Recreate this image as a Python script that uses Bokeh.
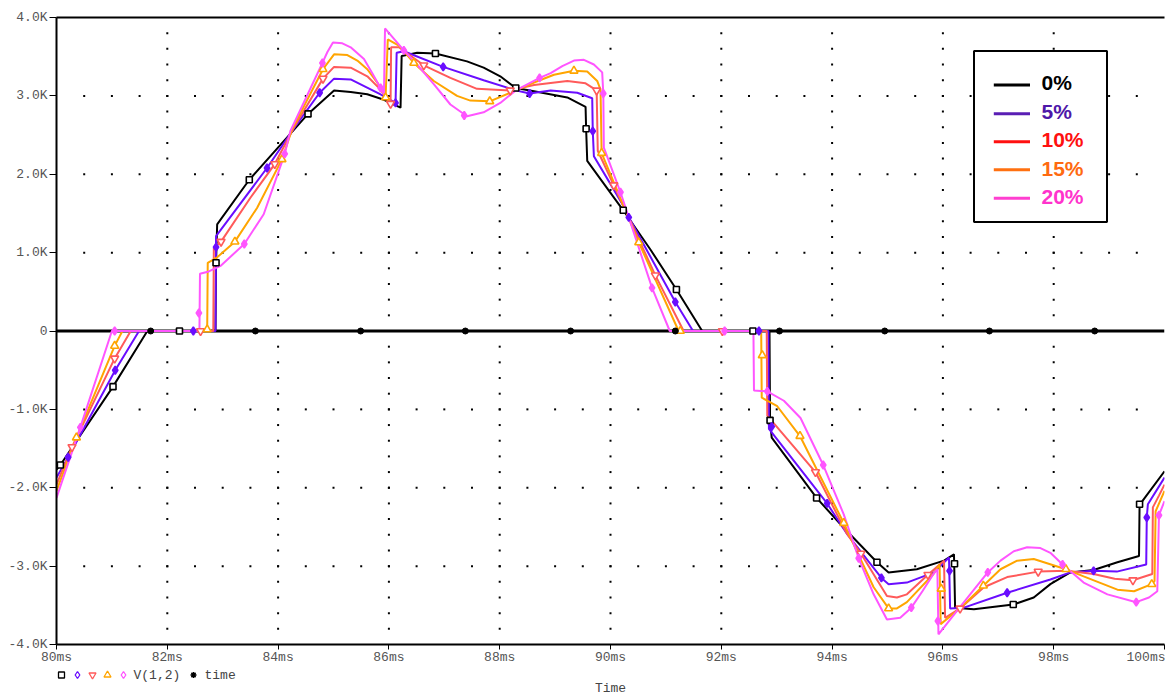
import numpy as np
from bokeh.plotting import figure
from bokeh.layouts import column
from bokeh.models import Range1d, FixedTicker, LinearAxis
from bokeh.core.properties import value
from bokeh.embed import file_html
from bokeh.resources import INLINE

# ---------------- data (time in ms, V(1,2) in kV) ----------------
series_names = ["0%", "5%", "10%", "15%", "20%"]

t0 = [80.0, 80.07, 81.02, 81.64, 82.87, 82.88, 82.90, 83.48, 84.34, 84.54, 85.01, 85.31, 85.61, 85.91,
      86.21, 86.23, 86.51, 86.84, 87.41, 87.71, 88.01, 88.29, 88.62, 89.22, 89.55, 89.56, 89.58, 90.23,
      90.72, 91.19, 91.655, 92.87, 92.88, 92.91, 93.72, 94.21, 94.81, 95.02, 95.53, 96.02, 96.20, 96.22,
      96.56, 97.27, 97.64, 97.94, 98.30, 98.72, 99.15, 99.54, 99.55, 99.60, 100.0]
v0 = [-1.77, -1.71, -0.71, 0.0, 0.0, 0.87, 1.36, 1.93, 2.61, 2.77, 3.07, 3.05, 3.02, 2.95,
      2.85, 3.51, 3.55, 3.54, 3.44, 3.36, 3.25, 3.10, 3.06, 2.98, 2.86, 2.58, 2.17, 1.54,
      1.04, 0.53, 0.0, 0.0, -1.14, -1.36, -2.13, -2.51, -2.95, -3.08, -3.04, -2.93, -2.85, -3.53,
      -3.55, -3.49, -3.40, -3.23, -3.08, -3.05, -2.95, -2.87, -2.21, -2.17, -1.79]

t1 = [80.0, 80.21, 81.06, 81.49, 82.87, 82.88, 83.80, 84.31, 84.75, 85.01, 85.31, 85.85, 86.12, 86.14,
      86.27, 86.98, 87.71, 88.29, 88.54, 88.92, 89.40, 89.67, 89.68, 89.70, 90.24, 90.33, 91.17, 91.49,
      92.85, 92.86, 93.91, 94.27, 94.89, 95.02, 95.35, 95.84, 96.11, 96.13, 96.38, 97.16, 97.94, 98.30,
      98.72, 99.14, 99.67, 99.68, 99.70, 100.0]
v1 = [-1.87, -1.61, -0.50, 0.0, 0.0, 1.21, 2.08, 2.61, 3.04, 3.22, 3.21, 3.02, 2.91, 3.55,
      3.57, 3.37, 3.20, 3.07, 3.03, 3.07, 3.04, 2.97, 2.55, 2.23, 1.59, 1.45, 0.37, 0.0,
      0.0, -1.25, -2.20, -2.59, -3.15, -3.23, -3.21, -3.08, -2.89, -3.54, -3.53, -3.34, -3.17, -3.08,
      -3.06, -3.07, -2.98, -2.38, -2.21, -1.87]

t2 = [80.0, 80.28, 81.05, 81.34, 82.83, 82.84, 82.97, 83.50, 83.94, 84.28, 84.81, 85.01, 85.31, 85.61,
      85.85, 86.03, 86.04, 86.18, 86.63, 87.11, 87.59, 88.19, 88.62, 89.22, 89.55, 89.75, 89.77, 90.06,
      90.81, 91.32, 92.82, 92.83, 93.70, 94.27, 94.52, 94.99, 95.17, 95.35, 95.73, 96.02, 96.04, 96.31,
      96.74, 97.16, 97.72, 98.24, 98.72, 99.10, 99.43, 99.78, 99.79, 99.90, 100.0]
v2 = [-1.96, -1.48, -0.35, 0.0, 0.0, 1.06, 1.14, 1.70, 2.13, 2.59, 3.22, 3.37, 3.36, 3.25,
      3.08, 2.90, 3.62, 3.62, 3.39, 3.23, 3.09, 3.07, 3.14, 3.19, 3.16, 3.07, 2.30, 1.86,
      0.71, 0.0, 0.0, -1.08, -1.80, -2.59, -2.84, -3.38, -3.40, -3.36, -3.11, -2.93, -3.66, -3.54,
      -3.27, -3.14, -3.07, -3.06, -3.10, -3.16, -3.18, -3.10, -2.25, -2.10, -1.96]

t3 = [80.0, 80.36, 81.05, 81.19, 82.72, 82.73, 82.90, 83.22, 83.62, 84.07, 84.25, 84.81, 85.01, 85.25,
      85.43, 85.61, 85.79, 85.94, 85.98, 86.18, 86.45, 86.81, 87.23, 87.47, 87.82, 88.29, 88.62, 88.98,
      89.34, 89.58, 89.76, 89.82, 89.84, 90.51, 91.23, 92.72, 92.73, 93.01, 93.42, 94.21, 94.75, 95.02,
      95.17, 95.35, 95.83, 95.94, 95.96, 96.32, 96.73, 97.04, 97.34, 97.64, 98.22, 98.54, 99.15, 99.45,
      99.77, 99.82, 99.84, 100.0]
v3 = [-2.04, -1.36, -0.19, 0.0, 0.0, 0.87, 0.94, 1.14, 1.57, 2.19, 2.57, 3.34, 3.53, 3.52,
      3.45, 3.34, 3.17, 2.98, 3.72, 3.64, 3.42, 3.19, 3.00, 2.94, 2.93, 3.07, 3.17, 3.27,
      3.32, 3.31, 3.19, 3.08, 2.27, 1.13, 0.0, 0.0, -0.85, -0.96, -1.34, -2.45, -3.27, -3.54,
      -3.54, -3.46, -3.10, -2.98, -3.74, -3.53, -3.25, -3.04, -2.93, -2.91, -3.04, -3.13, -3.30, -3.32,
      -3.23, -3.19, -2.30, -2.04]

t4 = [80.0, 80.43, 81.0, 82.58, 82.59, 82.75, 82.96, 83.39, 83.74, 84.12, 84.22, 84.80, 84.89, 84.99,
      85.16, 85.31, 85.55, 85.70, 85.85, 85.91, 85.93, 86.27, 86.51, 86.81, 87.11, 87.41, 87.71, 88.01,
      88.29, 88.72, 88.92, 89.13, 89.34, 89.52, 89.70, 89.85, 89.87, 89.88, 90.18, 90.75, 91.07,
      92.58, 92.59, 92.83, 93.13, 93.43, 93.84, 94.21, 94.48, 94.75, 94.99, 95.23, 95.43, 95.63, 95.83,
      95.90, 95.92, 96.29, 96.81, 97.04, 97.28, 97.52, 97.76, 97.94, 98.16, 98.54, 98.97, 99.49, 99.72,
      99.87, 99.90, 100.0]
v4 = [-2.13, -1.23, 0.0, 0.0, 0.73, 0.76, 0.83, 1.11, 1.49, 2.26, 2.55, 3.42, 3.56, 3.68,
      3.67, 3.62, 3.47, 3.29, 3.10, 3.02, 3.86, 3.58, 3.40, 3.15, 2.89, 2.74, 2.79, 2.91,
      3.07, 3.23, 3.29, 3.38, 3.45, 3.46, 3.40, 3.30, 3.03, 2.34, 1.77, 0.55, 0.0,
      0.0, -0.76, -0.77, -0.89, -1.11, -1.71, -2.34, -2.90, -3.36, -3.68, -3.66, -3.53, -3.32, -3.10,
      -3.04, -3.87, -3.54, -3.08, -2.93, -2.81, -2.76, -2.77, -2.83, -2.98, -3.21, -3.36, -3.46, -3.40,
      -3.32, -2.35, -2.17]

# marker positions along each trace
m0_t = [80.07, 81.02, 82.22, 82.88, 83.48, 84.54, 86.84, 88.29, 89.56, 90.23, 91.19, 92.57, 92.88,
        93.72, 94.81, 96.21, 97.27, 99.55]
m0_v = [-1.71, -0.71, 0.0, 0.87, 1.93, 2.77, 3.54, 3.10, 2.58, 1.54, 0.53, 0.0, -1.14,
        -2.13, -2.95, -2.97, -3.49, -2.21]
m1_t = [80.21, 81.06, 82.47, 82.88, 83.80, 84.75, 86.12, 86.98, 88.54, 89.68, 90.33, 91.17, 92.68,
        92.91, 93.91, 94.89, 96.12, 97.16, 98.72, 99.68]
m1_v = [-1.61, -0.50, 0.0, 1.07, 2.08, 3.04, 2.91, 3.37, 3.03, 2.55, 1.45, 0.37, 0.0,
        -1.22, -2.20, -3.15, -3.06, -3.34, -3.06, -2.38]
m2_t = [80.28, 81.05, 82.60, 82.97, 83.94, 84.81, 86.03, 86.63, 88.19, 89.75, 90.06, 90.81, 92.02,
        93.70, 94.52, 95.73, 96.31, 97.72, 99.43]
m2_v = [-1.48, -0.35, 0.0, 1.14, 2.13, 3.22, 2.90, 3.39, 3.07, 3.07, 1.86, 0.71, 0.0,
        -1.80, -2.84, -3.11, -3.54, -3.07, -3.18]
m3_t = [80.36, 81.05, 82.72, 83.22, 84.07, 84.81, 85.94, 86.45, 87.82, 89.34, 89.84, 90.51, 91.26,
        92.74, 93.42, 94.21, 95.02, 95.97, 96.73, 98.22, 99.77]
m3_v = [-1.36, -0.19, 0.02, 1.14, 2.19, 3.34, 2.98, 3.42, 2.93, 3.32, 2.27, 1.13, 0.0,
        -0.31, -1.34, -2.45, -3.54, -3.29, -3.25, -3.04, -3.23]
m4_t = [80.43, 81.05, 82.57, 83.39, 84.12, 84.80, 85.85, 86.27, 87.36, 88.72, 89.87, 90.18, 90.75,
        92.06, 92.83, 93.84, 94.48, 95.43, 95.91, 96.81, 98.16, 99.49, 99.90]
m4_v = [-1.23, 0.0, 0.23, 1.11, 2.26, 3.42, 3.10, 3.58, 2.75, 3.23, 3.03, 1.77, 0.55,
        0.0, -0.77, -1.71, -2.90, -3.53, -3.70, -3.08, -2.98, -3.46, -2.35]

# the "time" trace (shown at ~0 on this kV scale)
time_line_t = [80.0, 100.0]
time_line_v = [0.0, 0.0]
time_mark_t = [81.70, 83.59, 85.49, 87.38, 89.28, 91.17, 93.05, 94.95, 96.84, 98.74]
time_mark_v = [0.0] * len(time_mark_t)

x_ticks = [80, 82, 84, 86, 88, 90, 92, 94, 96, 98, 100]
y_ticks = [-4, -3, -2, -1, 0, 1, 2, 3, 4]
y_tick_labels = ["-4.0K", "-3.0K", "-2.0K", "-1.0K", "0", "1.0K", "2.0K", "3.0K", "4.0K"]

trace_label = "V(1,2)"
time_label = "time"
x_title = "Time"

# ---------------- styles ----------------
curve_colors = ["#000000", "#6a0dff", "#ff5a5a", "#ffa500", "#ff55ff"]
legend_line_colors = ["#000000", "#5a1eb4", "#ff1010", "#ff7010", "#ff3fd0"]
legend_text_colors = ["#000000", "#4e17a8", "#ff1010", "#ff6a10", "#ff33cc"]
markers = ["square", "diamond", "inverted_triangle", "triangle", "diamond"]
marker_fill = ["white", "#6a0dff", "white", "white", "#ff55ff"]
TICK_FONT = "Liberation Mono"
W = 1165
MAIN_H = 668
STRIP_H = 694 - MAIN_H

p = figure(width=W, height=MAIN_H, x_range=Range1d(80, 100), y_range=Range1d(-4, 4),
           output_backend="svg", toolbar_location=None,
           min_border_left=56, min_border_right=1, min_border_top=17, min_border_bottom=24)
p.outline_line_color = None
p.xgrid.visible = False
p.ygrid.visible = False
p.background_fill_color = "white"
p.border_fill_color = "white"

xa = p.xaxis[0]
xa.ticker = FixedTicker(ticks=x_ticks)
xa.major_label_overrides = {t: f"{t}ms" for t in x_ticks}
xa.axis_line_width = 2
xa.axis_line_color = "black"
xa.major_tick_out = 5
xa.major_tick_in = 0
xa.major_tick_line_width = 1
xa.minor_tick_line_color = None
xa.major_label_standoff = 0
xa.major_label_text_font = TICK_FONT
xa.major_label_text_font_size = "13px"
xa.major_label_text_color = "#555555"

ya = p.yaxis[0]
ya.ticker = FixedTicker(ticks=y_ticks)
ya.major_label_overrides = dict(zip(y_ticks, y_tick_labels))
ya.axis_line_width = 2
ya.axis_line_color = "black"
ya.major_tick_out = 7
ya.major_tick_in = 0
ya.minor_tick_line_color = None
ya.major_label_standoff = 2
ya.major_label_text_font = TICK_FONT
ya.major_label_text_font_size = "13px"
ya.major_label_text_color = "#555555"

top_axis = LinearAxis(ticker=FixedTicker(ticks=[]), axis_line_width=2, axis_line_color="black",
                      major_label_text_font_size="0px", major_tick_line_color=None,
                      minor_tick_line_color=None)
p.add_layout(top_axis, "above")

# dotted grid (decoration)
grid_cols = [82, 84, 86, 88, 90, 92, 94, 96, 98]
col_y = [round(y, 2) for y in np.arange(-3.8, 3.81, 0.2) if abs(y) > 0.05]
gx = [c for c in grid_cols for _ in col_y]
gy = [y for _ in grid_cols for y in col_y]
row_levels = [-3, -2, -1, 1, 2, 3]
row_x = [round(x, 2) for x in np.arange(80.5, 99.9, 0.5)]
gx += [x for _ in row_levels for x in row_x]
gy += [r for r in row_levels for _ in row_x]
p.scatter(gx, gy, marker="square", size=2, fill_color="black", line_color=None)

# time trace underneath
p.line(time_line_t, time_line_v, line_color="black", line_width=3)

series_t = [t0, t1, t2, t3, t4]
series_v = [v0, v1, v2, v3, v4]
marks_t = [m0_t, m1_t, m2_t, m3_t, m4_t]
marks_v = [m0_v, m1_v, m2_v, m3_v, m4_v]
for t, v, col in zip(series_t, series_v, curve_colors):
    p.line(t, v, line_color=col, line_width=2)
for mt, mv, col, mk, fc in zip(marks_t, marks_v, curve_colors, markers, marker_fill):
    size = 6 if mk == "square" else 8
    p.scatter(mt, mv, marker=mk, size=size, line_color=col, fill_color=fc, line_width=1.6)

p.scatter(time_mark_t, time_mark_v, marker="circle", size=6, fill_color="black",
          line_color="black")

# ---------------- legend box (top right) ----------------
def px_t(x):
    return 80 + (x - 56) / 55.4

def px_v(y):
    return (330 - y) / 78.4

p.quad(left=[px_t(973.5)], right=[px_t(1106.5)], top=[px_v(50)], bottom=[px_v(221)],
       fill_color="white", line_color="black", line_width=2)
line_ys = [84, 112.7, 140.7, 168.7, 197.3]
text_ys = [81.7, 110.7, 138.7, 167.3, 195.0]
p.segment(x0=[px_t(993.3)] * 5, y0=[px_v(y) for y in line_ys],
          x1=[px_t(1029.5)] * 5, y1=[px_v(y) for y in line_ys],
          line_color=legend_line_colors, line_width=3)
p.text(x=[px_t(1041)] * 5, y=[px_v(y) for y in text_ys], text=series_names,
       text_color=legend_text_colors, text_font=value("Liberation Sans"),
       text_font_style="bold", text_font_size="21px", text_align="left",
       text_baseline="alphabetic")

# ---------------- strip below the axis: trace legend and axis title ----------------
# (its frame is aligned with the main frame, so the same ms scale is used)
s = figure(width=W, height=STRIP_H, x_range=Range1d(80, 100), y_range=Range1d(0, STRIP_H),
           output_backend="svg", toolbar_location=None,
           min_border_left=56, min_border_right=1, min_border_top=0, min_border_bottom=0)
s.axis.visible = False
s.xgrid.visible = False
s.ygrid.visible = False
s.outline_line_color = None
s.background_fill_color = "white"
s.border_fill_color = "white"

row_y = STRIP_H - 6.5       # legend row centre (px up from strip bottom)
title_y = STRIP_H - 19.5
sym_x = [61, 77, 92, 107, 123]
for sx, col, mk in zip(sym_x, curve_colors, markers):
    s.scatter([px_t(sx)], [row_y], marker=mk, size=6 if mk == "square" else 7, line_color=col,
              fill_color="white", line_width=1.3)
s.scatter([px_t(193)], [row_y], marker="asterisk", size=6, line_color="black", line_width=1.5)
s.text(x=[px_t(133), px_t(204)], y=[row_y, row_y], text=[trace_label, time_label],
       text_color="#444444", text_font=value(TICK_FONT), text_font_size="13px",
       text_align="left", text_baseline="middle")
s.text(x=[px_t(610)], y=[title_y], text=[x_title], text_color="#444444",
       text_font=value(TICK_FONT), text_font_size="13px", text_align="center",
       text_baseline="middle")

layout = column(p, s, spacing=0)
open("out.html", "w").write(file_html(layout, INLINE))
